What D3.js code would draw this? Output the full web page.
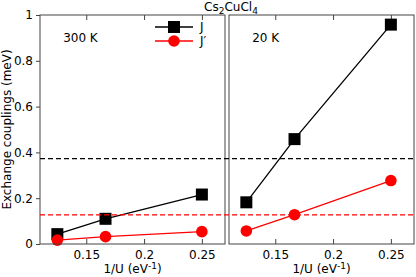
<!DOCTYPE html>
<html>
<head>
<meta charset="utf-8">
<script src="https://d3js.org/d3.v7.min.js"></script>
<style>
  html, body { margin: 0; padding: 0; background: #fff; }
  text { font-family: "DejaVu Sans", sans-serif; }
</style>
</head>
<body>
<script>
// values
const invU = [0.125, 1 / 6, 0.25];
const panels = ["300 K", "20 K"];
const J300 = [0.043, 0.110, 0.216];
const Jp300 = [0.017, 0.032, 0.054];
const J20 = [0.182, 0.458, 0.958];
const Jp20 = [0.057, 0.128, 0.277];
const expJ = 0.373;
const expJp = 0.127;
const xTicks = [0.15, 0.2, 0.25];
const yTicks = [0, 0.2, 0.4, 0.6, 0.8, 1];

const W = 416, H = 277;
const plotTop = 15, plotBottom = 244;
const panelX = [[40, 225], [229, 414]];
const fs = 12;

const svg = d3.select("body").append("svg")
  .attr("width", W).attr("height", H);

const y = d3.scaleLinear().domain([0, 1]).range([plotBottom, plotTop]);
const fmt = d => d === 0 ? "0" : d === 1 ? "1" : String(d);

const series = [[J300, Jp300], [J20, Jp20]];

panels.forEach((name, i) => {
  const x = d3.scaleLinear().domain([0.11, 0.27]).range(panelX[i]);
  const g = svg.append("g");

  // ticks on top and bottom, pointing inward
  g.append("g").attr("transform", `translate(0,${plotBottom})`)
    .call(d3.axisBottom(x).tickValues(xTicks).tickSize(-5).tickFormat(fmt))
    .call(a => a.select(".domain").remove())
    .call(a => a.selectAll("text").attr("y", 6).attr("dy", "0.71em")
      .attr("font-size", fs).attr("fill", "#000"));
  g.append("g").attr("transform", `translate(0,${plotTop})`)
    .call(d3.axisTop(x).tickValues(xTicks).tickSize(-5).tickFormat(""))
    .call(a => a.select(".domain").remove());

  if (i === 0) {
    g.append("g").attr("transform", `translate(${panelX[0][0]},0)`)
      .call(d3.axisLeft(y).tickValues(yTicks).tickSize(4).tickPadding(3).tickFormat(fmt))
      .call(a => a.select(".domain").remove())
      .call(a => a.selectAll("text").attr("font-size", fs).attr("fill", "#000"));
  }

  g.selectAll(".tick line").attr("stroke", "#444");

  // x label
  g.append("text")
    .attr("x", (panelX[i][0] + panelX[i][1]) / 2).attr("y", 273)
    .attr("text-anchor", "middle").attr("font-size", fs)
    .html("1/U (eV<tspan dy='-4' font-size='9'>-1</tspan><tspan dy='4'>)</tspan>");

  // panel name
  g.append("text")
    .attr("x", x(0.13)).attr("y", 42)
    .attr("font-size", fs).text(name);

  const line = d3.line().x((d, k) => x(invU[k])).y(d => y(d));
  const [js, jps] = series[i];

  g.append("path").datum(js).attr("d", line)
    .attr("fill", "none").attr("stroke", "#000").attr("stroke-width", 1.3);
  g.selectAll(".sq").data(js).join("rect")
    .attr("x", (d, k) => x(invU[k]) - 6).attr("y", d => y(d) - 6)
    .attr("width", 12).attr("height", 12).attr("fill", "#000");

  g.append("path").datum(jps).attr("d", line)
    .attr("fill", "none").attr("stroke", "#f00").attr("stroke-width", 1.3);
  g.selectAll(".ci").data(jps).join("circle")
    .attr("cx", (d, k) => x(invU[k])).attr("cy", d => y(d))
    .attr("r", 5.8).attr("fill", "#f00");

  // frame
  g.append("rect")
    .attr("x", panelX[i][0]).attr("y", plotTop)
    .attr("width", panelX[i][1] - panelX[i][0]).attr("height", plotBottom - plotTop)
    .attr("fill", "none").attr("stroke", "#444").attr("stroke-width", 1);
});

// experimental values, dashed across the figure
[[expJ, "#000"], [expJp, "#f00"]].forEach(([v, c]) => {
  svg.append("line")
    .attr("x1", panelX[0][0]).attr("x2", panelX[1][1])
    .attr("y1", y(v)).attr("y2", y(v))
    .attr("stroke", c).attr("stroke-width", 1.3)
    .attr("stroke-dasharray", "5,3");
});

// legend
const leg = svg.append("g");
[["J", "#000", "rect"], ["J\u2032", "#f00", "circle"]].forEach(([lab, c, m], k) => {
  const ly = 27 + k * 14;
  leg.append("line").attr("x1", 155).attr("x2", 193)
    .attr("y1", ly).attr("y2", ly).attr("stroke", c).attr("stroke-width", 1.3);
  if (m === "rect") {
    leg.append("rect").attr("x", 168).attr("y", ly - 6)
      .attr("width", 12).attr("height", 12).attr("fill", c);
  } else {
    leg.append("circle").attr("cx", 174).attr("cy", ly).attr("r", 5.8).attr("fill", c);
  }
  leg.append("text").attr("x", 200).attr("y", ly + 4)
    .attr("font-size", fs).text(lab);
});

// title
svg.append("text").attr("x", 231).attr("y", 11)
  .attr("text-anchor", "middle").attr("font-size", fs)
  .html("Cs<tspan dy='3' font-size='9'>2</tspan><tspan dy='-3'>CuCl</tspan><tspan dy='3' font-size='9'>4</tspan>");

// y label
svg.append("text")
  .attr("transform", `translate(11,${(plotTop + plotBottom) / 2}) rotate(-90)`)
  .attr("text-anchor", "middle").attr("font-size", fs)
  .text("Exchange couplings (meV)");
</script>
</body>
</html>
